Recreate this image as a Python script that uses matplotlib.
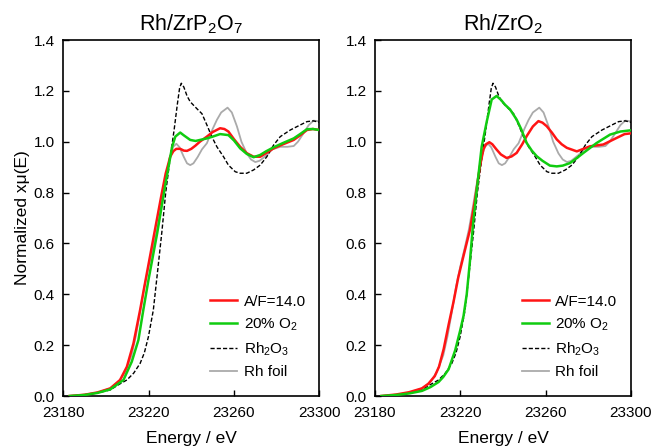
import matplotlib
matplotlib.use("Agg")
import matplotlib.pyplot as plt

plt.rcParams['font.family'] = ['Liberation Sans', 'DejaVu Sans']
plt.rcParams['mathtext.fontset'] = 'custom'
plt.rcParams['mathtext.rm'] = 'Liberation Sans'
plt.rcParams['mathtext.it'] = 'Liberation Sans:italic'
plt.rcParams['mathtext.default'] = 'regular'

# ---- reference spectra (shared by both panels) ----
rh2o3_E = [23183, 23190, 23196, 23202, 23206, 23209.8, 23213, 23216, 23218, 23219.9, 23222.2,
           23224, 23226.2, 23228, 23230, 23232, 23233.5, 23234.5, 23235.3, 23236.5, 23238,
           23239.5, 23242.6, 23245, 23247.3, 23249.6, 23252, 23255.1, 23257.4, 23260.6, 23262.9,
           23266, 23269.2, 23272.3, 23275.4, 23278.6, 23281.7, 23286.4, 23291.1, 23294.2, 23297.3, 23300]
rh2o3_mu = [0.0, 0.005, 0.012, 0.024, 0.045, 0.063, 0.09, 0.128, 0.17, 0.233, 0.338,
            0.475, 0.645, 0.80, 0.93, 1.05, 1.15, 1.21, 1.23, 1.215, 1.18,
            1.157, 1.13, 1.11, 1.066, 1.02, 0.98, 0.941, 0.908, 0.882, 0.876,
            0.876, 0.889, 0.908, 0.941, 0.987, 1.02, 1.046, 1.066, 1.079, 1.082, 1.076]

foil_E = [23183, 23190, 23196, 23202, 23206, 23209, 23212, 23214, 23216, 23218, 23220, 23222,
          23224, 23226, 23228, 23230, 23231.5, 23233, 23234.5, 23236.5, 23238, 23239.5, 23241,
          23243, 23245, 23247.3, 23250, 23252, 23254, 23257, 23259, 23261.4, 23263.5, 23266,
          23268, 23270, 23272, 23275.4, 23278, 23281.7, 23285, 23288, 23290, 23292.6, 23295,
          23297.3, 23300]
foil_mu = [0.0, 0.005, 0.013, 0.03, 0.055, 0.095, 0.16, 0.235, 0.33, 0.43, 0.51, 0.58,
           0.655, 0.75, 0.85, 0.94, 0.98, 0.992, 0.978, 0.94, 0.915, 0.908, 0.915,
           0.94, 0.97, 0.994, 1.05, 1.086, 1.115, 1.134, 1.115, 1.06, 1.0, 0.954,
           0.93, 0.92, 0.925, 0.948, 0.97, 0.98, 0.98, 0.983, 1.0, 1.033, 1.065,
           1.083, 1.08]

# ---- Rh/ZrP2O7 ----
zp_af_E = [23183, 23190, 23196, 23202, 23206.6, 23209.8, 23212.9, 23216, 23218, 23220, 23222,
           23224, 23226, 23228, 23229.3, 23230.1, 23231.6, 23233, 23234.8, 23236.5, 23238,
           23240, 23242, 23244, 23247.3, 23250, 23253.5, 23255.5, 23257.4, 23260, 23262.9,
           23266, 23269.2, 23272.3, 23275, 23278.6, 23283, 23288, 23291, 23294.2, 23297, 23300]
zp_af_mu = [0.0, 0.005, 0.014, 0.03, 0.063, 0.115, 0.207, 0.338, 0.43, 0.52, 0.61,
            0.70, 0.79, 0.875, 0.915, 0.941, 0.963, 0.972, 0.972, 0.965, 0.964,
            0.972, 0.985, 1.0, 1.02, 1.038, 1.053, 1.05, 1.04, 1.01, 0.98,
            0.955, 0.941, 0.941, 0.955, 0.974, 0.99, 1.007, 1.025, 1.046, 1.05, 1.046]

zp_o2_E = [23183, 23190, 23196, 23202, 23208.2, 23212.1, 23215.2, 23217.5, 23220, 23222, 23224,
           23226, 23228, 23229.3, 23231, 23232.5, 23234.8, 23236.5, 23239.5, 23242, 23244.1,
           23247.3, 23250, 23253.5, 23257.4, 23260, 23262.9, 23266, 23269.2, 23272.3, 23275,
           23278.6, 23283, 23288, 23291, 23294.2, 23297, 23300]
zp_o2_mu = [0.0, 0.004, 0.012, 0.026, 0.063, 0.135, 0.22, 0.338, 0.46, 0.55, 0.64,
            0.74, 0.84, 0.90, 0.98, 1.02, 1.036, 1.025, 1.007, 1.003, 1.007,
            1.013, 1.02, 1.03, 1.026, 1.005, 0.974, 0.952, 0.939, 0.948, 0.962,
            0.978, 0.995, 1.013, 1.03, 1.049, 1.05, 1.046]

# ---- Rh/ZrO2 ----
zo_af_E = [23183, 23190, 23196, 23202, 23205, 23208, 23210, 23212.2, 23214.5, 23216.8, 23219,
           23221.4, 23224.5, 23226.9, 23229.2, 23230.8, 23232, 23233.6, 23235, 23237, 23239,
           23241.7, 23244, 23246.4, 23249, 23251.1, 23254, 23256.6, 23258.5, 23260.5, 23263,
           23265.2, 23267.5, 23269.9, 23274.6, 23280.8, 23287, 23293.3, 23297, 23300]
zo_af_mu = [0.0, 0.006, 0.015, 0.03, 0.048, 0.078, 0.115, 0.185, 0.28, 0.37, 0.465,
            0.548, 0.653, 0.772, 0.903, 0.97, 0.99, 0.998, 0.99, 0.969, 0.95,
            0.936, 0.942, 0.956, 0.99, 1.022, 1.06, 1.081, 1.075, 1.061, 1.035,
            1.009, 0.99, 0.976, 0.962, 0.982, 0.989, 1.015, 1.03, 1.033]

zo_o2_E = [23183, 23190, 23196, 23202, 23206, 23209.8, 23212, 23214.5, 23217.6, 23220, 23221.5,
           23223, 23224.5, 23226, 23227.7, 23230, 23232.4, 23234.7, 23237, 23239, 23241,
           23243.3, 23246.4, 23248.5, 23251.1, 23253.5, 23255.8, 23258.5, 23262, 23265.2,
           23268, 23271.4, 23274.5, 23277.7, 23283.9, 23290.2, 23295, 23300]
zo_o2_mu = [0.0, 0.004, 0.01, 0.02, 0.035, 0.055, 0.075, 0.105, 0.18, 0.26, 0.315,
            0.40, 0.53, 0.68, 0.81, 0.98, 1.08, 1.166, 1.18, 1.165, 1.145,
            1.127, 1.087, 1.05, 0.995, 0.965, 0.943, 0.925, 0.906, 0.903,
            0.906, 0.916, 0.935, 0.956, 0.995, 1.028, 1.04, 1.045]

titles = [r"Rh/ZrP$_2$O$_7$", r"Rh/ZrO$_2$"]
labels = ["A/F=14.0", r"20% O$_2$", r"Rh$_2$O$_3$", "Rh foil"]
xticks = [23180, 23220, 23260, 23300]
yticks = [0.0, 0.2, 0.4, 0.6, 0.8, 1.0, 1.2, 1.4]

panels = [(zp_af_E, zp_af_mu, zp_o2_E, zp_o2_mu), (zo_af_E, zo_af_mu, zo_o2_E, zo_o2_mu)]

W, H = 654, 446
fig = plt.figure(figsize=(W / 100, H / 100), dpi=100)
lefts = [63.3, 375]
axw, axh = 256, 356
bottom = 50

for i, (afE, afM, o2E, o2M) in enumerate(panels):
    ax = fig.add_axes([lefts[i] / W, bottom / H, axw / W, axh / H])
    ax.plot(rh2o3_E, rh2o3_mu, color='black', lw=1.0, ls=(0, (3, 1.5)), label=labels[2], zorder=3)
    ax.plot(foil_E, foil_mu, color='#aaaaaa', lw=1.3, label=labels[3], zorder=2)
    ax.plot(afE, afM, color='#ff1414', lw=1.8, label=labels[0], zorder=4)
    ax.plot(o2E, o2M, color='#10cc10', lw=1.8, label=labels[1], zorder=5)
    ax.set_xlim(23180, 23300)
    ax.set_ylim(0, 1.4)
    ax.set_xticks(xticks)
    ax.set_yticks(yticks)
    ax.set_yticklabels([f"{v:.1f}" for v in yticks])
    ax.tick_params(direction='in', length=4, width=1, labelsize=11, pad=6)
    ax.tick_params(axis='x', pad=7)
    for s in ax.spines.values():
        s.set_linewidth(1.2)
    ax.set_title(titles[i], fontsize=15.5, pad=7)
    ax.set_xlabel("Energy / eV", fontsize=12.5, labelpad=8)
    if i == 0:
        ax.set_ylabel("Normalized xμ(E)", fontsize=12.5, labelpad=3)
    h, l = ax.get_legend_handles_labels()
    order = [2, 3, 0, 1]
    ax.legend([h[k] for k in order], [l[k] for k in order], loc='upper left',
              bbox_to_anchor=(0.573, 0.285), frameon=False, fontsize=11,
              handlelength=1.8, handletextpad=0.4, labelspacing=0.5,
              borderpad=0, borderaxespad=0)

fig.savefig("out.png", dpi=100)
